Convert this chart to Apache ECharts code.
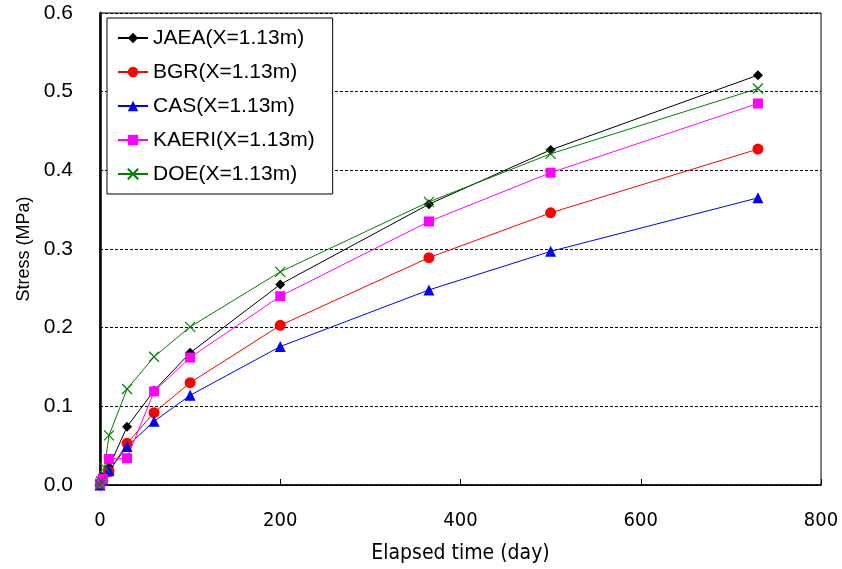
<!DOCTYPE html>
<html><head><meta charset="utf-8">
<script src="https://cdn.jsdelivr.net/npm/echarts@6/dist/echarts.min.js"></script>
<style>html,body{margin:0;padding:0;background:#fff}#c{width:842px;height:569px}</style>
</head><body><div id="c"></div>
<script>
const seriesNames = ['JAEA(X=1.13m)','BGR(X=1.13m)','CAS(X=1.13m)','KAERI(X=1.13m)','DOE(X=1.13m)'];
const jaea  = [[0,0],[3,0.010],[10,0.023],[30,0.074],[60,0.120],[100,0.168],[200,0.255],[365,0.357],[500,0.426],[730,0.521]];
const bgr   = [[0,0],[3,0.005],[10,0.017],[30,0.053],[60,0.092],[100,0.130],[200,0.203],[365,0.289],[500,0.346],[730,0.427]];
const cas   = [[0,0],[3,0.006],[10,0.018],[30,0.049],[60,0.081],[100,0.114],[200,0.176],[365,0.248],[500,0.297],[730,0.365]];
const kaeri = [[0,0.002],[3,0.008],[10,0.033],[30,0.034],[60,0.119],[100,0.162],[200,0.240],[365,0.335],[500,0.397],[730,0.485]];
const doe   = [[0,0],[1,0.005],[5,0.022],[10,0.063],[30,0.122],[60,0.163],[100,0.201],[200,0.271],[365,0.360],[500,0.421],[730,0.504]];
const xTicks = [0,200,400,600,800];
const yTicks = [0,0.1,0.2,0.3,0.4,0.5,0.6];

const colors = ['#000000','#ff0000','#0000ff','#ff00ff','#008000'];
const symbols = ['diamond','circle','triangle','rect','path://M0,0L10,10M10,0L0,10'];
const sizes = [10,11,11,10,10];
const datas = [jaea,bgr,cas,kaeri,doe];

const chart = echarts.init(document.getElementById('c'));
chart.setOption({
  animation:false,
  grid:{left:100,right:21,top:13,bottom:84,show:true,borderColor:'#000',borderWidth:1,backgroundColor:'transparent'},
  legend:{
    orient:'vertical',left:107,top:18,
    backgroundColor:'#fff',borderColor:'#000',borderWidth:1,
    padding:[8,18,8,10],itemGap:10,itemWidth:30,itemHeight:13,
    textStyle:{fontFamily:'Liberation Sans, Arial, sans-serif',fontSize:21,color:'#000',lineHeight:24},
    data:seriesNames
  },
  xAxis:{
    type:'value',min:xTicks[0],max:xTicks[xTicks.length-1],interval:200,
    name:'Elapsed time (day)',nameLocation:'middle',nameGap:58,
    nameTextStyle:{fontFamily:'DejaVu Sans Condensed, Liberation Sans Narrow, Liberation Sans, sans-serif',fontSize:21,color:'#000'},
    axisLine:{lineStyle:{color:'#000',width:1.5}},
    axisTick:{inside:true,length:6,lineStyle:{color:'#000'}},
    axisLabel:{fontFamily:'DejaVu Sans Condensed, Liberation Sans Narrow, Liberation Sans, sans-serif',fontSize:20,color:'#000',margin:26},
    splitLine:{show:false}
  },
  yAxis:{
    type:'value',min:yTicks[0],max:yTicks[yTicks.length-1],interval:0.1,
    name:'Stress (MPa)',nameLocation:'middle',nameGap:63,nameRotate:90,
    nameTextStyle:{fontFamily:'Liberation Sans, Arial, sans-serif',fontSize:18,color:'#000'},
    axisLine:{lineStyle:{color:'#000',width:2.5}},
    axisTick:{show:false},
    axisLabel:{fontFamily:'Liberation Sans, Arial, sans-serif',fontSize:21,color:'#000',margin:27,formatter:v=>v.toFixed(1)},
    splitLine:{show:true,lineStyle:{color:'#000',type:[3,2],width:1}}
  },
  series:datas.map((d,i)=>({
    name:seriesNames[i],type:'line',data:d,
    symbol:symbols[i],symbolSize:sizes[i],showAllSymbol:true,
    lineStyle:{color:colors[i],width:1},
    itemStyle:{color:colors[i],borderColor:colors[i],borderWidth:i===4?1.2:0}
  }))
});
</script></body></html>
